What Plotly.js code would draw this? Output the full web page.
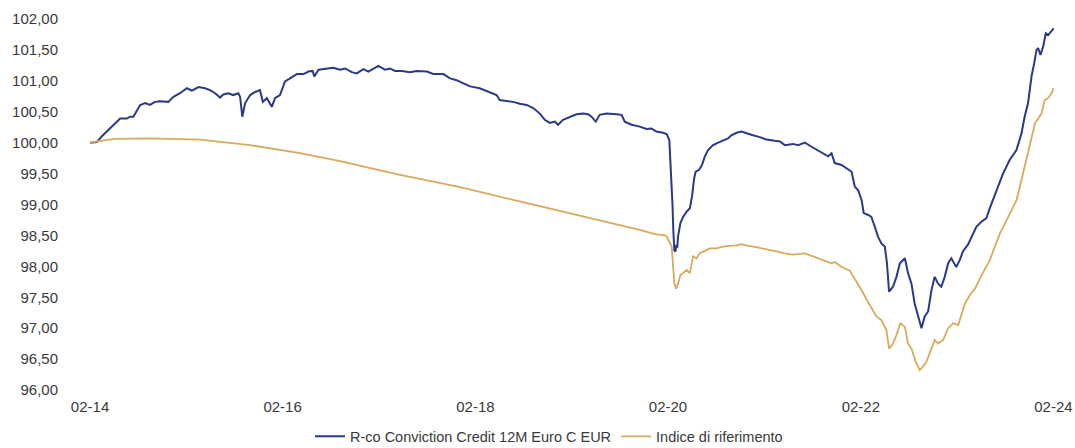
<!DOCTYPE html>
<html>
<head>
<meta charset="utf-8">
<script src="https://cdn.plot.ly/plotly-3.0.1.min.js"></script>
<style>
  html, body { margin: 0; padding: 0; background: #fff; }
  #chart { width: 1075px; height: 448px; }
</style>
</head>
<body>
<div id="chart"></div>
<script>
// Series names
const seriesNames = ["R-co Conviction Credit 12M Euro C EUR", "Indice di riferimento"];

// Fund (navy) series
const fundDates = [
"2014-02-15","2014-03-12","2014-03-31","2014-04-19","2014-05-08","2014-05-27","2014-06-09","2014-07-04","2014-07-17","2014-07-29",
"2014-08-05","2014-08-24","2014-09-12","2014-09-30","2014-10-19","2014-11-07","2014-12-09","2014-12-28","2015-01-22","2015-02-17",
"2015-03-08","2015-04-02","2015-04-27","2015-05-16","2015-06-04","2015-06-23","2015-07-05","2015-07-24","2015-08-12","2015-08-31",
"2015-09-07","2015-09-15","2015-09-26","2015-10-15","2015-11-03","2015-11-21","2015-12-02","2015-12-17","2016-01-05","2016-01-17",
"2016-02-05","2016-02-24","2016-03-14","2016-04-09","2016-05-04","2016-05-23","2016-06-08","2016-06-14","2016-06-30","2016-07-31",
"2016-08-25","2016-09-20","2016-10-09","2016-11-03","2016-11-22","2016-12-17","2017-01-05","2017-02-12","2017-03-09","2017-03-28",
"2017-04-16","2017-05-12","2017-06-12","2017-07-07","2017-08-15","2017-09-08","2017-10-16","2017-11-11","2017-12-06","2017-12-31",
"2018-01-26","2018-03-03","2018-04-10","2018-05-06","2018-05-18","2018-06-13","2018-07-08","2018-08-02","2018-08-28","2018-09-22",
"2018-10-17","2018-11-05","2018-11-24","2018-12-13","2018-12-25","2019-01-13","2019-02-08","2019-03-05","2019-03-30","2019-04-18",
"2019-05-01","2019-05-17","2019-06-01","2019-06-27","2019-08-04","2019-08-23","2019-09-04","2019-09-30","2019-10-31","2019-11-25",
"2019-12-14","2020-01-02","2020-01-27","2020-02-10","2020-02-20","2020-02-27","2020-03-03","2020-03-06","2020-03-10","2020-03-14",
"2020-03-18","2020-03-21","2020-03-24","2020-04-02","2020-04-12","2020-04-25","2020-05-08","2020-05-16","2020-05-24","2020-05-30",
"2020-06-12","2020-06-23","2020-07-03","2020-07-16","2020-08-04","2020-08-23","2020-09-11","2020-09-30","2020-10-12","2020-11-01",
"2020-11-19","2020-12-08","2021-01-02","2021-01-28","2021-02-22","2021-03-26","2021-04-14","2021-05-03","2021-06-03","2021-06-22",
"2021-07-18","2021-08-06","2021-08-31","2021-09-25","2021-10-14","2021-10-27","2021-11-08","2021-12-04","2021-12-23","2022-01-11",
"2022-01-23","2022-02-05","2022-02-18","2022-02-26","2022-03-15","2022-03-27","2022-04-09","2022-04-21","2022-05-04","2022-05-17",
"2022-05-25","2022-06-02","2022-06-17","2022-06-30","2022-07-13","2022-08-01","2022-08-13","2022-08-26","2022-09-07","2022-09-20",
"2022-10-03","2022-10-15","2022-10-28","2022-11-10","2022-11-22","2022-12-05","2022-12-17","2022-12-30","2023-01-12","2023-01-24",
"2023-02-12","2023-02-25","2023-03-09","2023-03-28","2023-04-16","2023-04-29","2023-05-18","2023-06-06","2023-06-19","2023-07-08",
"2023-07-27","2023-08-08","2023-09-02","2023-09-28","2023-10-17","2023-10-29","2023-11-11","2023-11-24","2023-12-04","2023-12-13",
"2023-12-19","2023-12-28","2024-01-07","2024-01-17","2024-01-26","2024-02-08","2024-02-16"
];
const fundValues = [
100.00,100.01,100.10,100.18,100.26,100.34,100.39,100.39,100.42,100.42,
100.47,100.61,100.64,100.61,100.66,100.67,100.66,100.74,100.80,100.88,
100.84,100.90,100.88,100.85,100.80,100.73,100.78,100.80,100.77,100.80,
100.74,100.42,100.64,100.77,100.82,100.85,100.66,100.72,100.58,100.72,
100.77,100.99,101.04,101.11,101.11,101.15,101.16,101.07,101.18,101.20,
101.21,101.18,101.20,101.14,101.12,101.19,101.15,101.24,101.18,101.20,
101.16,101.16,101.14,101.16,101.15,101.11,101.11,101.04,101.01,100.96,
100.91,100.88,100.82,100.77,100.69,100.68,100.66,100.63,100.61,100.56,
100.47,100.37,100.32,100.34,100.29,100.37,100.42,100.46,100.47,100.46,
100.42,100.34,100.45,100.47,100.46,100.45,100.34,100.29,100.26,100.22,
100.23,100.18,100.16,100.14,100.04,99.50,99.00,98.60,98.26,98.24,
98.35,98.30,98.48,98.70,98.80,98.88,98.94,99.13,99.42,99.53,
99.56,99.64,99.77,99.88,99.96,100.00,100.04,100.07,100.12,100.16,
100.18,100.15,100.12,100.09,100.05,100.03,100.02,99.96,99.98,99.96,
100.00,99.95,99.89,99.83,99.78,99.83,99.67,99.64,99.59,99.53,
99.29,99.23,99.07,98.86,98.83,98.80,98.64,98.48,98.37,98.32,
98.05,97.59,97.67,97.83,98.05,98.13,97.89,97.72,97.40,97.19,
97.00,97.19,97.27,97.62,97.83,97.72,97.67,97.83,98.05,98.13,
97.99,98.10,98.24,98.35,98.53,98.64,98.72,98.78,98.94,99.15,
99.37,99.50,99.72,99.88,100.15,100.42,100.64,101.07,101.28,101.50,
101.53,101.42,101.55,101.77,101.74,101.81,101.85
];

// Benchmark (gold) series
const benchDates = [
"2014-02-15","2014-03-25","2014-05-21","2014-09-30","2015-04-08","2015-10-15","2016-04-21","2016-09-20","2017-05-05","2017-12-19",
"2018-08-02","2019-03-18","2019-10-31","2019-12-27","2020-02-04","2020-02-10","2020-02-29","2020-03-10","2020-03-17","2020-03-24",
"2020-04-02","2020-04-12","2020-04-25","2020-05-08","2020-05-20","2020-06-02","2020-06-14","2020-07-03","2020-07-22","2020-08-17",
"2020-09-11","2020-10-06","2020-11-01","2020-11-19","2020-12-15","2021-01-15","2021-02-22","2021-04-01","2021-05-03","2021-06-03",
"2021-07-18","2021-08-18","2021-09-25","2021-10-27","2021-11-08","2021-12-04","2022-01-04","2022-01-23","2022-02-05","2022-02-25",
"2022-03-09","2022-03-27","2022-04-15","2022-05-04","2022-05-23","2022-06-02","2022-06-17","2022-06-30","2022-07-15","2022-08-01",
"2022-08-13","2022-08-26","2022-09-11","2022-09-26","2022-10-09","2022-10-22","2022-11-03","2022-11-22","2022-12-05","2022-12-24",
"2023-01-12","2023-01-31","2023-02-19","2023-03-04","2023-03-17","2023-04-05","2023-04-24","2023-05-13","2023-06-01","2023-06-19",
"2023-07-08","2023-07-27","2023-08-22","2023-09-16","2023-09-28","2023-10-11","2023-10-23","2023-11-18","2023-12-07","2023-12-19",
"2024-01-01","2024-01-13","2024-01-26","2024-02-08","2024-02-16"
];
const benchValues = [
100.00,100.03,100.06,100.07,100.05,99.96,99.83,99.70,99.48,99.28,
99.05,98.82,98.59,98.52,98.50,98.48,98.32,97.72,97.64,97.72,
97.86,97.89,97.94,97.89,98.16,98.13,98.21,98.25,98.29,98.29,
98.32,98.33,98.34,98.36,98.33,98.31,98.28,98.24,98.21,98.19,
98.21,98.16,98.10,98.05,98.07,97.99,97.93,97.80,97.69,97.56,
97.46,97.32,97.19,97.13,96.97,96.67,96.75,96.89,97.08,97.02,
96.75,96.67,96.46,96.32,96.38,96.46,96.59,96.81,96.75,96.81,
97.00,97.08,97.05,97.24,97.40,97.54,97.64,97.81,97.97,98.10,
98.32,98.53,98.75,98.96,99.07,99.29,99.50,99.99,100.31,100.39,
100.47,100.69,100.72,100.80,100.88
];

// Axis ticks
const xTickDates = ["2014-02-15","2016-02-15","2018-02-15","2020-02-15","2022-02-15","2024-02-15"];
const xTickLabels = ["02-14","02-16","02-18","02-20","02-22","02-24"];
const yTickValues = [96, 96.5, 97, 97.5, 98, 98.5, 99, 99.5, 100, 100.5, 101, 101.5, 102];

const navy = "#2a3a86";
const gold = "#d9a95c";
const textColor = "#3a3a3a";
const fontFamily = "'Liberation Sans', Arial, sans-serif";

const traces = [
  { type: "scatter", mode: "lines", name: seriesNames[0], x: fundDates, y: fundValues,
    line: { color: navy, width: 2 } },
  { type: "scatter", mode: "lines", name: seriesNames[1], x: benchDates, y: benchValues,
    line: { color: gold, width: 1.8 } }
];

const layout = {
  width: 1075, height: 448,
  margin: { l: 65, r: 10, t: 19, b: 58, pad: 0, autoexpand: false },
  paper_bgcolor: "#fff", plot_bgcolor: "#fff",
  separators: ",.",
  font: { family: fontFamily, size: 15, color: textColor },
  showlegend: true,
  hovermode: false,
  xaxis: {
    type: "date",
    range: ["2013-11-12", "2024-03-30"],
    tickmode: "array", tickvals: xTickDates, ticktext: xTickLabels,
    showgrid: false, zeroline: false, showline: false, ticks: "",
    ticklabelstandoff: 6,
    automargin: false,
    tickfont: { size: 15, color: textColor }
  },
  yaxis: {
    range: [96, 102],
    tickmode: "array", tickvals: yTickValues, tickformat: ".2f",
    showgrid: false, zeroline: false, showline: false, ticks: "",
    ticklabelstandoff: 6,
    automargin: false,
    tickfont: { size: 15, color: textColor }
  },
  legend: {
    orientation: "h", x: 0.484, xanchor: "center", y: -0.082, yanchor: "top",
    font: { size: 14.5, color: textColor }, bgcolor: "rgba(0,0,0,0)",
    itemwidth: 30
  }
};

Plotly.newPlot("chart", traces, layout, { staticPlot: true, displayModeBar: false });
</script>
</body>
</html>
